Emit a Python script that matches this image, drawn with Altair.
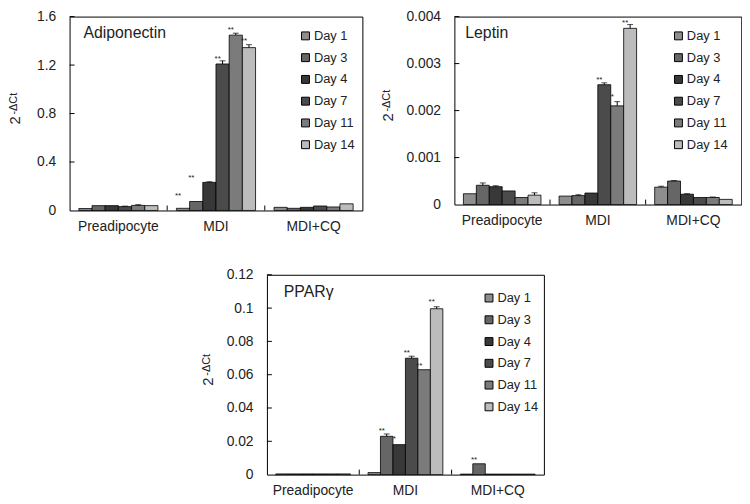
import altair as alt
import pandas as pd

groups = ["Preadipocyte", "MDI", "MDI+CQ"]
days = ["Day 1", "Day 3", "Day 4", "Day 7", "Day 11", "Day 14"]
day_colors = ["#8e8e8e", "#666666", "#383838", "#4b4b4b", "#7b7b7b", "#bcbcbc"]

# ---- Adiponectin ----
adipo_pre = [0.016, 0.040, 0.040, 0.032, 0.042, 0.040]
adipo_mdi = [0.018, 0.074, 0.232, 1.209, 1.447, 1.344]
adipo_cq = [0.026, 0.018, 0.026, 0.037, 0.029, 0.055]
adipo_pre_err = [0, 0, 0, 0.004, 0.006, 0]
adipo_mdi_err = [0, 0, 0.005, 0.026, 0.016, 0.024]
adipo_cq_err = [0, 0, 0, 0, 0, 0]
adipo_star_group = ["MDI", "MDI", "MDI", "MDI", "MDI"]
adipo_star_day = ["Day 1", "Day 3", "Day 7", "Day 11", "Day 14"]
adipo_star_text = ["**", "**", "**", "**", "**"]
adipo_star_y = [0.135, 0.285, 1.267, 1.505, 1.418]
adipo_ticks = [0, 0.4, 0.8, 1.2, 1.6]

# ---- Leptin ----
lep_pre = [0.00023, 0.00041, 0.00038, 0.00029, 0.00015, 0.00020]
lep_mdi = [0.00018, 0.00019, 0.000245, 0.00255, 0.0021, 0.00375]
lep_cq = [0.00037, 0.00050, 0.00022, 0.00015, 0.00015, 0.00011]
lep_pre_err = [0, 0.00005, 0.00002, 0, 0, 0.00005]
lep_mdi_err = [0, 0.00002, 0, 0.00004, 0.00009, 0.00008]
lep_cq_err = [0.00002, 0.00001, 0.00001, 0, 0.00001, 0]
lep_star_group = ["MDI", "MDI", "MDI"]
lep_star_day = ["Day 7", "Day 11", "Day 14"]
lep_star_text = ["**", "*", "**"]
lep_star_y = [0.0027, 0.00233, 0.00391]
lep_ticks = [0, 0.001, 0.002, 0.003, 0.004]

# ---- PPARgamma ----
ppar_pre = [0.0004, 0.0004, 0.0004, 0.0004, 0.0004, 0.0004]
ppar_mdi = [0.0012, 0.023, 0.018, 0.0699, 0.063, 0.0996]
ppar_cq = [0.0003, 0.0065, 0.0003, 0.0003, 0.0003, 0.0003]
ppar_pre_err = [0, 0, 0, 0, 0, 0]
ppar_mdi_err = [0, 0.0014, 0, 0.0012, 0, 0.0012]
ppar_cq_err = [0, 0, 0, 0, 0, 0]
ppar_star_group = ["MDI", "MDI", "MDI", "MDI", "MDI", "MDI+CQ"]
ppar_star_day = ["Day 3", "Day 4", "Day 7", "Day 11", "Day 14", "Day 3"]
ppar_star_text = ["**", "*", "**", "**", "**", "**"]
ppar_star_y = [0.0275, 0.0224, 0.0744, 0.0665, 0.1046, 0.0101]
ppar_ticks = [0, 0.02, 0.04, 0.06, 0.08, 0.1, 0.12]

FONT = "Liberation Sans"
TXT = "#222222"


def make_panel(name, values, errors, star_g, star_d, star_t, star_y, ticks,
               w, h, title_dx, ytitle_dx, leg_x, leg_y):
    rows = []
    for g, vals, errs in zip(groups, values, errors):
        for d, v, e in zip(days, vals, errs):
            rows.append({"group": g, "day": d, "value": v, "err": e, "top": v + e})
    df = pd.DataFrame(rows)
    stars = pd.DataFrame({"group": star_g, "day": star_d, "label": star_t, "value": star_y})
    tick_df = pd.DataFrame({"value": ticks[1:]})
    sep_df = pd.DataFrame({"group": groups[1:]})

    x_axis = alt.Axis(title=None, labelAngle=0, ticks=False, domain=False, grid=False,
                      labelFontSize=14, labelPadding=9, labelColor=TXT, labelFont=FONT)
    y_axis = alt.Axis(title=None, values=ticks, labelExpr="format(datum.value, '~g')",
                      ticks=False, domain=False,
                      grid=False, labelFontSize=14, labelPadding=14, labelColor=TXT,
                      labelFont=FONT)
    xscale = alt.Scale(domain=groups, paddingInner=0, paddingOuter=0)
    yscale = alt.Scale(domain=[ticks[0], ticks[-1]], nice=False, zero=True)
    x = alt.X("group:N", scale=xscale, axis=x_axis)
    xo = alt.XOffset("day:N", scale=alt.Scale(domain=days, paddingInner=0, paddingOuter=0.7))

    color = alt.Color("day:N", scale=alt.Scale(domain=days, range=day_colors),
                      legend=alt.Legend(title=None, orient="none", legendX=leg_x, legendY=leg_y,
                                        symbolType="square", symbolSize=64,
                                        symbolStrokeColor="black", symbolStrokeWidth=1,
                                        labelFontSize=13, labelOffset=2, rowPadding=8,
                                        padding=0, labelColor=TXT, labelFont=FONT))

    bars = alt.Chart(df).mark_bar(stroke="black", strokeWidth=0.8).encode(
        x=x, xOffset=xo, y=alt.Y("value:Q", scale=yscale, axis=y_axis), color=color)
    err_rule = alt.Chart(df).transform_filter("datum.err > 0").mark_rule(
        color="black", strokeWidth=1).encode(
        x=x, xOffset=xo, y=alt.Y("value:Q", scale=yscale, axis=y_axis), y2="top:Q")
    err_cap = alt.Chart(df).transform_filter("datum.err > 0").mark_tick(
        color="black", thickness=1, size=6, orient="horizontal").encode(
        x=x, xOffset=xo, y=alt.Y("top:Q", scale=yscale, axis=y_axis))
    star_layer = alt.Chart(stars).mark_text(
        fontSize=8, dx=-5, dy=2, baseline="middle", color=TXT, font=FONT).encode(
        x=x, xOffset=xo, y=alt.Y("value:Q", scale=yscale, axis=y_axis), text="label:N")
    ytick = alt.Chart(tick_df).mark_rule(color="black", strokeWidth=1).encode(
        x=alt.value(0), x2=alt.value(5), y=alt.Y("value:Q", scale=yscale, axis=y_axis))
    xsep = alt.Chart(sep_df).mark_rule(color="black", strokeWidth=1).encode(
        x=alt.X("group:N", scale=xscale, axis=x_axis, bandPosition=0),
        y=alt.value(h), y2=alt.value(h - 5))
    title = alt.Chart(pd.DataFrame({"t": [name]})).mark_text(
        align="left", baseline="middle", fontSize=16, color=TXT, font=FONT).encode(
        x=alt.value(title_dx), y=alt.value(17), text="t:N")
    yt_main = alt.Chart(pd.DataFrame({"t": ["2"]})).mark_text(
        angle=270, align="center", baseline="middle", fontSize=15, color=TXT, font=FONT).encode(
        x=alt.value(ytitle_dx), y=alt.value(h / 2 + 7), text="t:N")
    yt_sup = alt.Chart(pd.DataFrame({"t": ["-ΔCt"]})).mark_text(
        angle=270, align="center", baseline="middle", fontSize=11, color=TXT, font=FONT).encode(
        x=alt.value(ytitle_dx - 1), y=alt.value(h / 2 - 10), text="t:N")

    return alt.layer(bars, err_rule, err_cap, star_layer, ytick, xsep, title,
                     yt_main, yt_sup).properties(width=w, height=h)


adipo = make_panel("Adiponectin", [adipo_pre, adipo_mdi, adipo_cq],
                   [adipo_pre_err, adipo_mdi_err, adipo_cq_err],
                   adipo_star_group, adipo_star_day, adipo_star_text, adipo_star_y,
                   adipo_ticks, 296, 196, 14, -55, 232, 13)
leptin = make_panel("Leptin", [lep_pre, lep_mdi, lep_cq],
                    [lep_pre_err, lep_mdi_err, lep_cq_err],
                    lep_star_group, lep_star_day, lep_star_text, lep_star_y,
                    lep_ticks, 290, 190, 11, -67, 220, 13)
ppar = make_panel("PPARγ", [ppar_pre, ppar_mdi, ppar_cq],
                  [ppar_pre_err, ppar_mdi_err, ppar_cq_err],
                  ppar_star_group, ppar_star_day, ppar_star_text, ppar_star_y,
                  ppar_ticks, 280, 202, 17, -60, 218, 17)

top = alt.hconcat(adipo, leptin, spacing=17).resolve_scale(
    x="independent", y="independent", xOffset="independent").resolve_legend(color="independent")

chart = alt.vconcat(top, ppar, spacing=33, center=True).resolve_scale(
    x="independent", y="independent", xOffset="independent").resolve_legend(
    color="independent").properties(
    padding={"top": -2, "left": -1, "right": 0, "bottom": 0},
    background="white").configure(
    font=FONT).configure_view(stroke="black", strokeWidth=1)

chart.save("out.html", embed_options={"renderer": "svg", "actions": False})
